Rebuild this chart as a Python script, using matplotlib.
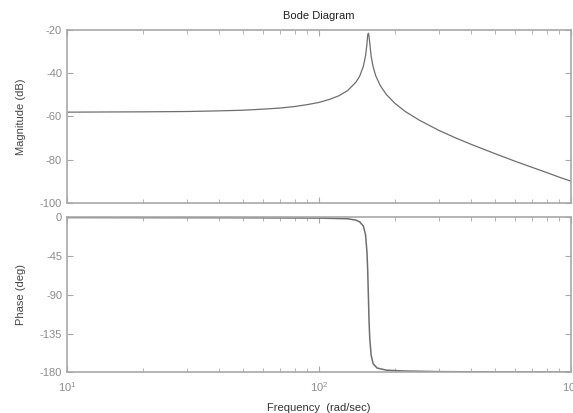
import numpy as np
import matplotlib.pyplot as plt
from matplotlib.ticker import LogLocator, NullFormatter

plt.rcParams['font.family'] = ['Liberation Sans', 'DejaVu Sans']
plt.rcParams['axes.unicode_minus'] = False

# values
w_mag = [10, 15, 20, 30, 40, 50, 60, 70, 80, 90, 100, 110, 120, 130, 140, 145,
         150, 153, 155, 156, 157, 158, 159, 161, 164, 168, 175, 185, 200, 220,
         250, 300, 350, 400, 500, 600, 700, 800, 900, 1000]
mag_db = [-58.0, -57.9, -57.85, -57.7, -57.4, -57.1, -56.6, -56.1, -55.4, -54.5,
          -53.5, -52.1, -50.4, -48.0, -44.2, -41.4, -36.8, -32.0, -26.5, -22.5,
          -21.5, -23.0, -26.0, -32.0, -37.1, -41.2, -45.7, -49.8, -53.9, -57.7,
          -61.7, -66.5, -70.0, -72.8, -77.2, -80.7, -83.5, -85.9, -88.1, -89.9]

w_ph = [10, 50, 100, 130, 140, 145, 150, 153, 155, 156, 157, 158, 159, 161,
        164, 170, 185, 220, 300, 500, 1000]
phase = [-0.1, -0.3, -0.7, -1.5, -3, -5, -10, -20, -40, -60, -90, -120, -140,
         -160, -170, -175, -177.5, -178.5, -179.2, -179.6, -179.8]

spine_c = '#a8a8a8'
tick_c = '#8c8c8c'
line_c = '#6e6e6e'

fig = plt.figure(figsize=(5.73, 4.13), dpi=100)
ax1 = fig.add_axes([0.1169, 0.5085, 0.8796, 0.4189])
ax2 = fig.add_axes([0.1169, 0.0985, 0.8796, 0.3749])

ax1.semilogx(w_mag, mag_db, color=line_c, lw=0.9)
ax2.semilogx(w_ph, phase, color=line_c, lw=1.1)

ax1.set_ylim(-100, -20)
ax1.set_yticks([-100, -80, -60, -40, -20])
ax2.set_ylim(-180, 0)
ax2.set_yticks([-180, -135, -90, -45, 0])

for a in (ax1, ax2):
    a.set_xlim(10, 1000)
    a.xaxis.set_major_locator(LogLocator(base=10))
    a.xaxis.set_minor_locator(LogLocator(base=10, subs=np.arange(2, 10)))
    a.xaxis.set_minor_formatter(NullFormatter())
    a.tick_params(which='both', direction='in', top=True, right=True,
                  color=spine_c, labelcolor=tick_c, labelsize=8)
    a.tick_params(which='major', length=4)
    a.tick_params(which='minor', length=3)
    for s in a.spines.values():
        s.set_color(spine_c)
        s.set_linewidth(1.2)

ax1.tick_params(labelbottom=False)
ax2.tick_params(axis='x', pad=6)

ax1.set_title('Bode Diagram', fontsize=8, color='#222222', pad=8)
ax1.set_ylabel('Magnitude (dB)', fontsize=8, color='#444444', labelpad=10)
ax2.set_ylabel('Phase (deg)', fontsize=8, color='#444444', labelpad=10)
ax2.set_xlabel('Frequency  (rad/sec)', fontsize=8, color='#333333', labelpad=6)

fig.savefig('out.png', dpi=100)
plt.close()
